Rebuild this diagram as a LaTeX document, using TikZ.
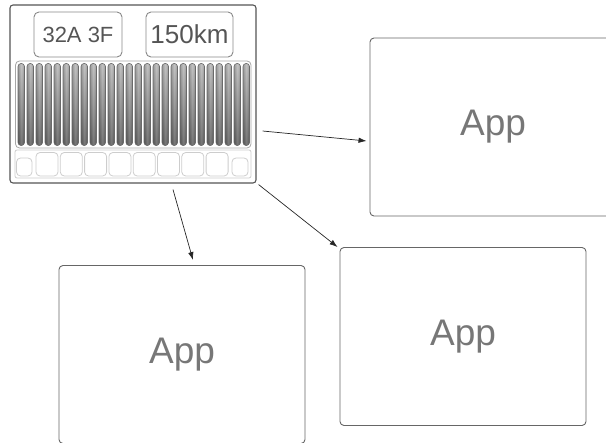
\documentclass[tikz,border=0pt]{standalone}
\usepackage{fontspec}
\setmainfont{Liberation Sans}
\usetikzlibrary{arrows.meta,calc}
\definecolor{framec}{HTML}{555555}
\definecolor{labelc}{HTML}{888888}
\definecolor{labeltxt}{HTML}{555555}
\definecolor{apptxt}{HTML}{777777}
\definecolor{appline}{HTML}{666666}
\definecolor{slatline}{HTML}{6A6A6A}
\definecolor{softline}{HTML}{CDCDCD}
\tikzset{
  device/.style={draw=framec, line width=1.1pt, rounded corners=3pt,
    minimum width=246pt, minimum height=178pt, inner sep=0pt},
  labelbox/.style={draw=labelc, line width=0.9pt, rounded corners=5pt,
    minimum height=45pt, inner sep=0pt, text=labeltxt},
  appbox/.style={draw=appline, line width=0.9pt, rounded corners=4pt,
    minimum width=246pt, minimum height=178pt, inner sep=0pt,
    text=apptxt, font=\fontsize{37}{40}\selectfont},
  slatwell/.style={draw=gray!70, line width=0.8pt, rounded corners=4pt},
  keystrip/.style={draw=softline, line width=0.8pt, rounded corners=2pt},
  keybox/.style={draw=softline, line width=0.8pt, rounded corners=4pt},
  link/.style={draw=black!85, line width=0.7pt, -{Latex[length=8pt,width=5.5pt]}}
}
\begin{document}
\begin{tikzpicture}[x=1pt,y=-1pt]
\useasboundingbox (0,0) rectangle (606,443);

% charger unit
\node[device] (dev) at (133,94) {};
\node[labelbox, minimum width=88pt, font=\fontsize{22}{25}\selectfont] (amps) at (78,34.5) {32A 3F};
\node[labelbox, minimum width=87pt, font=\fontsize{26}{29}\selectfont] (range) at (189.5,34.5) {150km};

% cooling slats
\draw[slatwell] (15.5,61) rectangle (251,148);
\foreach \i in {0,...,25}{
  \pgfmathsetmacro{\xl}{18+9*\i}
  \shade[rounded corners=3pt, left color=gray!70, right color=gray!70, middle color=gray!5]
    (\xl,63.5) rectangle ({\xl+6.5},145.5);
  \fill[rounded corners=3pt, top color=white, bottom color=black, fill opacity=0.3]
    (\xl,63.5) rectangle ({\xl+6.5},145.5);
  \draw[rounded corners=3pt, draw=slatline, line width=0.6pt]
    (\xl,63.5) rectangle ({\xl+6.5},145.5);
}

% key row
\draw[keystrip] (15,150) rectangle (251,178);
\draw[keybox] (16.5,158) rectangle (32,176);
\foreach \i in {0,...,7}{
  \pgfmathsetmacro{\xk}{36+24.3*\i}
  \draw[keybox] (\xk,152.5) rectangle ({\xk+22},176);
}
\draw[keybox] (232,158) rectangle (248,176);

% app screens
\node[appbox] (appA) at (493,127) {App};
\node[appbox] (appB) at (182,354.5) {App};
\node[appbox] (appC) at (463,336.5) {App};

% connectors
\coordinate (sA) at ($(dev.east)+(6,37)$);
\coordinate (eA) at ($(appA.west)+(-3,14)$);
\coordinate (sB) at ($(dev.south)+(40,6)$);
\coordinate (eB) at ($(appB.north)+(11,-5)$);
\coordinate (sC) at ($(dev.south east)+(2,1)$);
\coordinate (eC) at ($(appC.north west)+(-2,0)$);
\draw[link] (sA) -- (eA);
\draw[link] (sB) -- (eB);
\draw[link] (sC) -- (eC);
\end{tikzpicture}
\end{document}
